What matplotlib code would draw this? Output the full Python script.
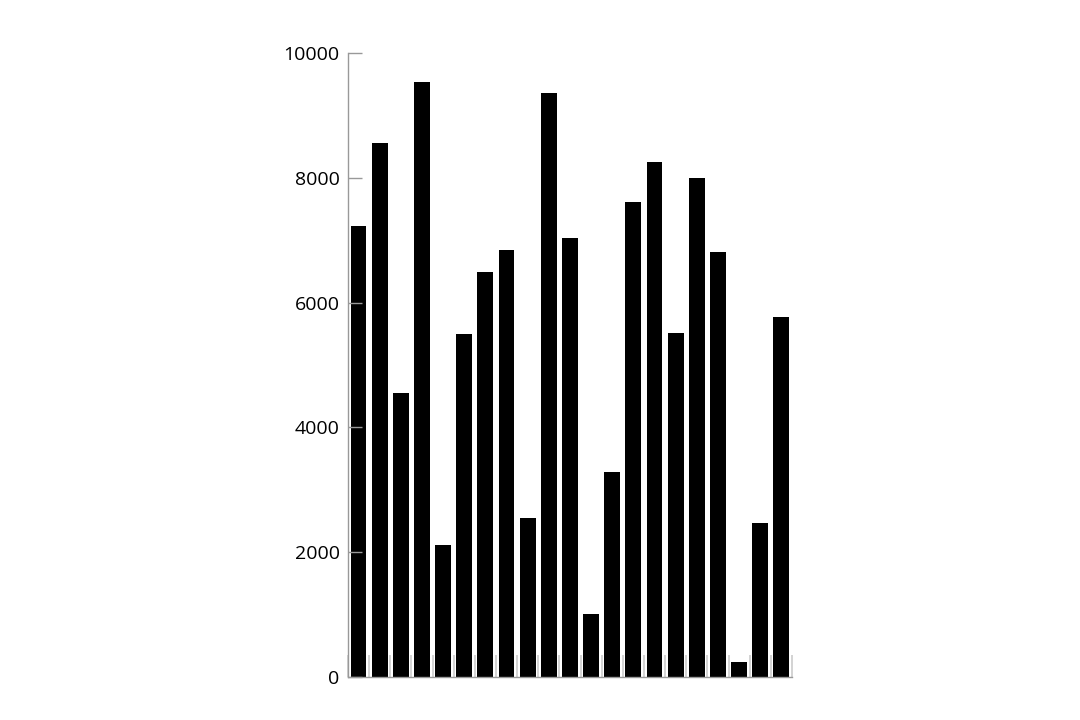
import matplotlib
matplotlib.use("Agg")
import matplotlib.pyplot as plt
import numpy as np

plt.rcParams['font.family'] = ['Open Sans', 'DejaVu Sans']

# bar heights, left to right
values = [7230, 8560, 4550, 9540, 2110, 5500, 6490, 6840, 2550, 9360, 7040,
          1010, 3290, 7610, 8250, 5510, 8000, 6810, 240, 2470, 5770]
y_ticks = [0, 2000, 4000, 6000, 8000, 10000]

fig = plt.figure(figsize=(10.8, 7.2), dpi=100)
ax = fig.add_axes([0.3222, 0.0597, 0.4111, 0.8667])

x = np.arange(len(values))
ax.bar(x, values, width=0.75, color="black")

ax.set_xlim(-0.5, len(values) - 0.5)
ax.set_ylim(0, 10000)
ax.set_yticks(y_ticks)
ax.set_yticklabels([str(v) for v in y_ticks], fontsize=14)

# category boundary ticks along the bottom
ax.set_xticks(np.arange(-0.5, len(values), 1.0))
ax.set_xticklabels([])
ax.tick_params(axis="x", direction="in", length=16, width=1.2, color="#cccccc")
ax.tick_params(axis="y", direction="in", length=10, width=1, color="#999999", pad=6)

for side in ("top", "right"):
    ax.spines[side].set_visible(False)
for side in ("left", "bottom"):
    ax.spines[side].set_color("#999999")
    ax.spines[side].set_linewidth(1)

fig.savefig("out.png", dpi=100)
